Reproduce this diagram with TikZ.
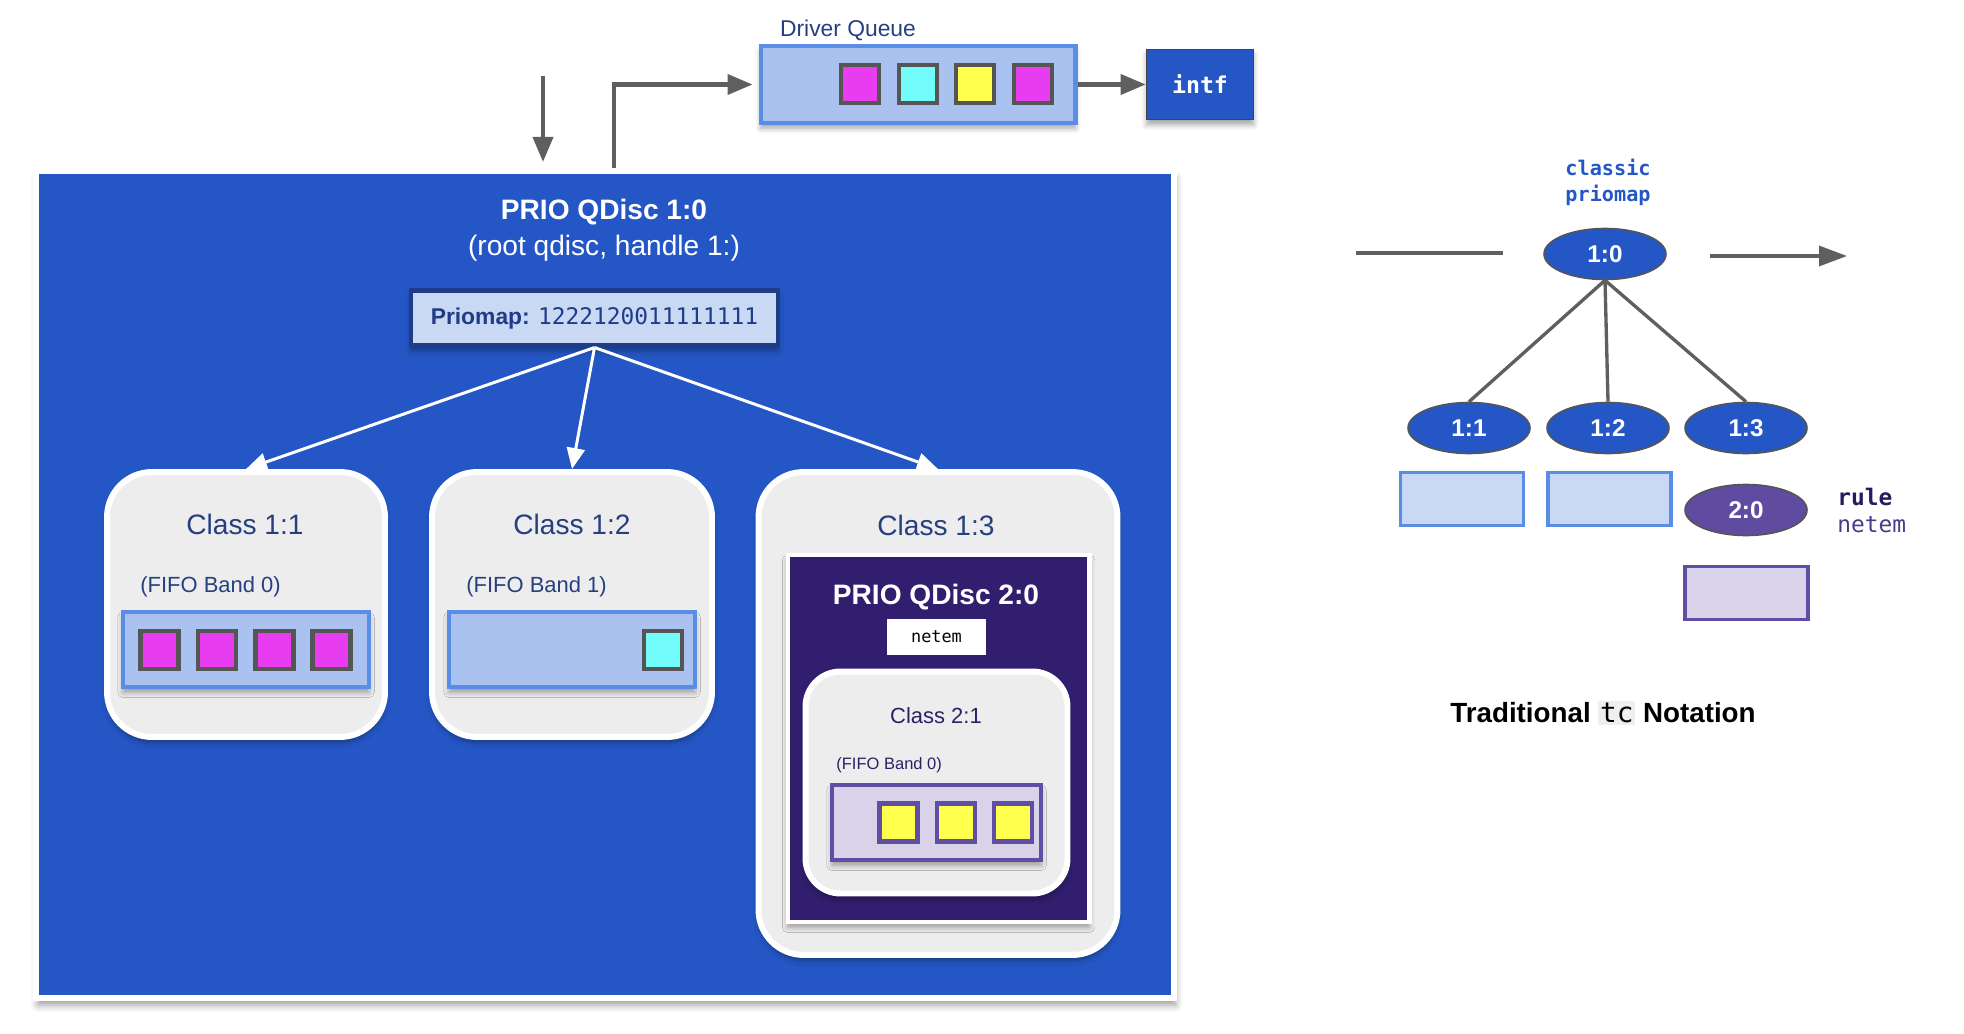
\documentclass[tikz,border=0pt]{standalone}
\usepackage{fontspec}
\setmainfont{Liberation Sans}
\setmonofont{DejaVu Sans Mono}
\usepackage{xcolor}
\usetikzlibrary{positioning, shapes.geometric, shadows.blur, arrows.meta}

\definecolor{qblue}{HTML}{2457C5}
\definecolor{dqfill}{HTML}{AAC2EF}
\definecolor{dqline}{HTML}{5A8EE6}
\definecolor{pmfill}{HTML}{C9D8F3}
\definecolor{pmline}{HTML}{1F3C88}
\definecolor{navytext}{HTML}{26407F}
\definecolor{classgray}{HTML}{EDEDED}
\definecolor{deeppurple}{HTML}{311E6E}
\definecolor{lavfill}{HTML}{D8D3E8}
\definecolor{lavline}{HTML}{5F4EA3}
\definecolor{purpletext}{HTML}{2E1F66}
\definecolor{pktmagenta}{HTML}{E83CF0}
\definecolor{pktcyan}{HTML}{73FCFC}
\definecolor{pktyellow}{HTML}{FFFF4D}
\definecolor{pktgray}{HTML}{555555}
\definecolor{arrowgray}{HTML}{5F5F5F}
\definecolor{ruletext}{HTML}{2A1A5E}
\definecolor{netemtext}{HTML}{4A3A8A}
\definecolor{node20}{HTML}{5F4B9F}
\definecolor{tcbg}{HTML}{EFEFEF}

\tikzset{
  softshadow/.style={blur shadow={shadow xshift=0pt, shadow yshift=-3pt, shadow blur radius=3pt, shadow opacity=35}},
  garrow/.style={->, >={Triangle[length=0.5cm, width=0.4cm]}, line width=2.3pt, draw=arrowgray},
  warrow/.style={->, >={Triangle[length=0.42cm, width=0.36cm]}, line width=1.7pt, draw=white},
  tline/.style={line width=1.9pt, draw=arrowgray},
  pkt/.style={rectangle, draw=pktgray, line width=2.3pt, minimum size=0.76cm, inner sep=0pt},
  queue/.style={rectangle, draw=dqline, fill=dqfill, line width=2.3pt, inner sep=0pt, softshadow},
  lavqueue/.style={rectangle, draw=lavline, fill=lavfill, line width=2.3pt, inner sep=0pt, softshadow},
  classbox/.style={rectangle, rounded corners=0.9cm, draw=white, fill=classgray, line width=3.4pt, inner sep=0pt, softshadow},
  titletext/.style={text=white, font=\fontsize{16}{19}\selectfont\bfseries},
  classtext/.style={text=navytext, font=\fontsize{16}{19}\selectfont},
  fifotext/.style={anchor=west, inner sep=0pt, text=navytext, font=\fontsize{12.5}{15}\selectfont},
  tcnode/.style={ellipse, fill=qblue, draw=pktgray, line width=0.9pt, minimum width=2.44cm, minimum height=1.02cm, inner sep=0pt, text=white, font=\fontsize{13.8}{16}\selectfont\bfseries},
  tcbox/.style={rectangle, draw=dqline, fill=pmfill, line width=2pt, minimum width=2.46cm, minimum height=1.06cm, inner sep=0pt}
}

\begin{document}
\begin{tikzpicture}[x=0.02cm, y=-0.02cm]
\useasboundingbox (0,0) rectangle (1964,1034);

% root qdisc
\node[rectangle, fill=qblue, draw=white, line width=3.6pt, minimum width=22.76cm, minimum height=16.54cm, inner sep=0pt,
  blur shadow={shadow xshift=1pt, shadow yshift=-4pt, shadow blur radius=4pt, shadow opacity=40}] (root) at (605,584.5) {};
\node[titletext] (roottitle) at (604,212) {PRIO QDisc 1:0};
\node[text=white, font=\fontsize{16}{19}\selectfont] (rootsub) at (604,248) {(root qdisc, handle 1:)};
\node[rectangle, fill=pmfill, draw=pmline, line width=2.3pt, minimum width=7.34cm, minimum height=1.1cm, inner sep=0pt,
  text=pmline, font=\fontsize{13}{15}\selectfont, softshadow] (pm) at (594.5,318) {\textbf{Priomap:} {\ttfamily 1222120011111111}};

% driver queue
\node[text=navytext, font=\fontsize{13}{15}\selectfont] (dqlabel) at (848,30) {Driver Queue};
\node[queue, minimum width=6.3cm, minimum height=1.54cm] (dq) at (918,84.5) {};
\node[pkt, fill=pktmagenta] (dq1) at (860,84) {};
\node[pkt, fill=pktcyan] (dq2) at (918,84) {};
\node[pkt, fill=pktyellow] (dq3) at (975,84) {};
\node[pkt, fill=pktmagenta] (dq4) at (1033,84) {};
\node[rectangle, fill=qblue, draw=pktgray!80!black, line width=1pt, minimum width=2.14cm, minimum height=1.4cm, inner sep=0pt,
  text=white, font=\fontsize{13.2}{15}\selectfont\ttfamily\bfseries, softshadow] (intf) at (1200,84.5) {intf};

% in and out arrows
\coordinate (inp) at (543,76);
\draw[garrow, shorten >=0.12cm] (inp) -- (inp |- root.north);
\draw[garrow, shorten >=0.12cm] ([xshift=0.18cm]root.north) |- (dq.west);
\draw[garrow] (dq.east) -- (intf.west);

% class 1:1
\node[classbox, minimum width=5.56cm, minimum height=5.3cm] (c11) at (246,604.5) {};
\node[classtext] (c11title) at (245,524) {Class 1:1};
\node[fifotext] (c11fifo) at (140,587) {(FIFO Band 0)};
\node[queue, minimum width=4.92cm, minimum height=1.5cm] (q11) at (246,649.5) {};
\node[pkt, fill=pktmagenta] (q11a) at (159.5,650) {};
\node[pkt, fill=pktmagenta] (q11b) at (217,650) {};
\node[pkt, fill=pktmagenta] (q11c) at (274.5,650) {};
\node[pkt, fill=pktmagenta] (q11d) at (331.5,650) {};

% class 1:2
\node[classbox, minimum width=5.6cm, minimum height=5.3cm] (c12) at (572,604.5) {};
\node[classtext] (c12title) at (572,524) {Class 1:2};
\node[fifotext] (c12fifo) at (466,587) {(FIFO Band 1)};
\node[queue, minimum width=4.92cm, minimum height=1.5cm] (q12) at (572,649.5) {};
\node[pkt, fill=pktcyan] (q12a) at (663,650) {};

% class 1:3
\node[classbox, minimum width=7.18cm, minimum height=9.66cm] (c13) at (938,713.5) {};
\node[classtext] (c13title) at (936,525) {Class 1:3};
\node[rectangle, fill=deeppurple, draw=white, line width=2.3pt, minimum width=6.04cm, minimum height=7.34cm, inner sep=0pt, softshadow] (prio2) at (938.5,738.5) {};
\node[titletext] (prio2title) at (936,597) {PRIO QDisc 2:0};
\node[rectangle, fill=white, minimum width=1.98cm, minimum height=0.72cm, inner sep=0pt,
  font=\fontsize{9.6}{11}\selectfont\ttfamily] (netembox) at (936.5,637) {netem};
\node[classbox, rounded corners=0.7cm, minimum width=5.24cm, minimum height=4.44cm] (c21) at (936.5,782.5) {};
\node[text=purpletext, font=\fontsize{12.5}{15}\selectfont] (c21title) at (936,716) {Class 2:1};
\node[anchor=west, inner sep=0pt, text=purpletext, font=\fontsize{9.4}{11}\selectfont] (c21fifo) at (836,765) {(FIFO Band 0)};
\node[lavqueue, minimum width=4.18cm, minimum height=1.5cm] (q21) at (936.5,822.5) {};
\node[pkt, draw=lavline, fill=pktyellow] (q21a) at (898.5,822.5) {};
\node[pkt, draw=lavline, fill=pktyellow] (q21b) at (956,822.5) {};
\node[pkt, draw=lavline, fill=pktyellow] (q21c) at (1013,822.5) {};

% priomap to classes
\draw[warrow] (pm.south) -- (c11.north);
\draw[warrow] (pm.south) -- (c12.north);
\draw[warrow] (pm.south) -- (c13.north);

% traditional tc notation
\node[align=center, text=qblue, font=\fontsize{11.5}{14.8}\selectfont\ttfamily\bfseries] (classic) at (1608,182) {classic\\priomap};
\node[tcnode] (t10) at (1605,254) {1:0};
\coordinate (tin) at (1356,253);
\coordinate (tinend) at (1503,253);
\coordinate (tout) at (1710,256);
\coordinate (toutend) at (1847,256);
\draw[tline] (tin) -- (tinend);
\draw[garrow, line width=1.9pt, >={Triangle[length=0.56cm, width=0.4cm]}] (tout) -- (toutend);
\node[tcnode] (t11) at (1469,428) {1:1};
\node[tcnode] (t12) at (1608,428) {1:2};
\node[tcnode] (t13) at (1746,428) {1:3};
\draw[tline] (t10.south) -- (t11.north);
\draw[tline] (t10.south) -- (t12.north);
\draw[tline] (t10.south) -- (t13.north);
\node[tcbox] (r11) at (1462,499) {};
\node[tcbox] (r12) at (1609.5,499) {};
\node[tcnode, fill=node20] (t20) at (1746,510) {2:0};
\node[tcbox, draw=lavline, fill=lavfill] (r21) at (1746.5,593) {};
\node[anchor=west, inner sep=0pt, text=ruletext, font=\fontsize{13}{15}\selectfont\ttfamily\bfseries] (rulelabel) at (1837,497) {rule};
\node[anchor=west, inner sep=0pt, text=netemtext, font=\fontsize{13}{15}\selectfont\ttfamily] (netemlabel) at (1837,525) {netem};
\node[font=\fontsize{15.8}{19}\selectfont\bfseries] (tctitle) at (1603,713)
  {Traditional {\setlength{\fboxsep}{1pt}\colorbox{tcbg}{\mdseries\ttfamily tc}} Notation};
\end{tikzpicture}
\end{document}
